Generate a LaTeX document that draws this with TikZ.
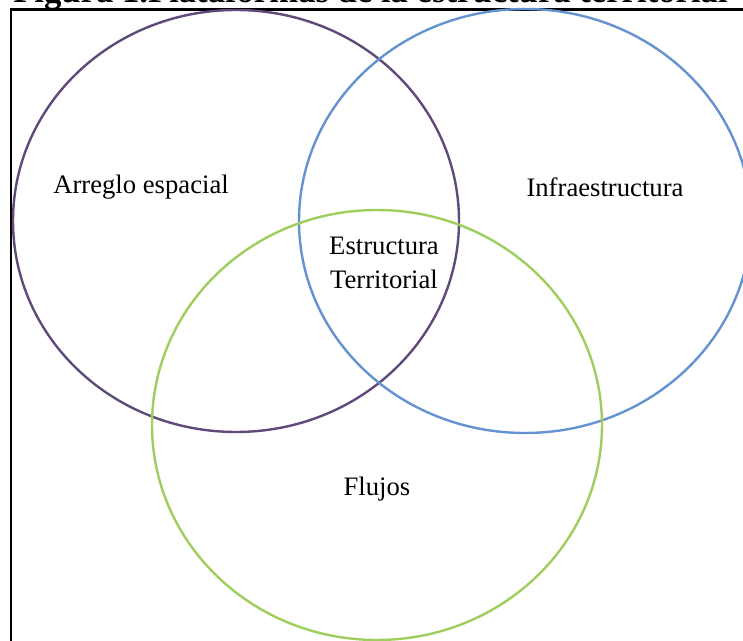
\documentclass[tikz,border=0pt]{standalone}
\usepackage{fontspec}
\setmainfont{Liberation Serif}
\definecolor{setpurple}{HTML}{5F4A7A}
\definecolor{setblue}{HTML}{6592D0}
\definecolor{setgreen}{HTML}{9FCD5E}
\tikzset{
  setline/.style={line width=1.8pt},
  lbl/.style={font=\fontsize{20}{24}\selectfont, inner sep=0pt, align=center}
}
\begin{document}
\begin{tikzpicture}[x=0.75pt,y=-0.75pt]
		\useasboundingbox (0,0) rectangle (743,641);
		\clip (0,0) rectangle (743,641);
		% cut title and frame
		\node[anchor=base west, inner sep=0pt, font=\bfseries\fontsize{26}{30}\selectfont] (title) at (13,3) {Figura 1.Plataformas de la estructura territorial};
		\draw[line width=1.6pt] (11,9.5) rectangle (770,670);
		% the three sets
		\draw[setpurple, setline] (236,221) ellipse [x radius=223, y radius=211];
		\draw[setblue, setline] (525,221) ellipse [x radius=226, y radius=212];
		\draw[setgreen, setline] (377,425) ellipse [x radius=225, y radius=215];
		% labels
		\node[lbl] (arreglo) at (141,187) {Arreglo espacial};
		\node[lbl] (infra) at (605,187) {Infraestructura};
		\node[lbl, text height=14pt, text depth=3pt] (estructura) at (384,247) {Estructura};
		\node[lbl, text height=14pt, text depth=3pt] (territorial) at (384,281) {Territorial};
		\node[lbl] (flujos) at (377,489) {Flujos};
\end{tikzpicture}
\end{document}
